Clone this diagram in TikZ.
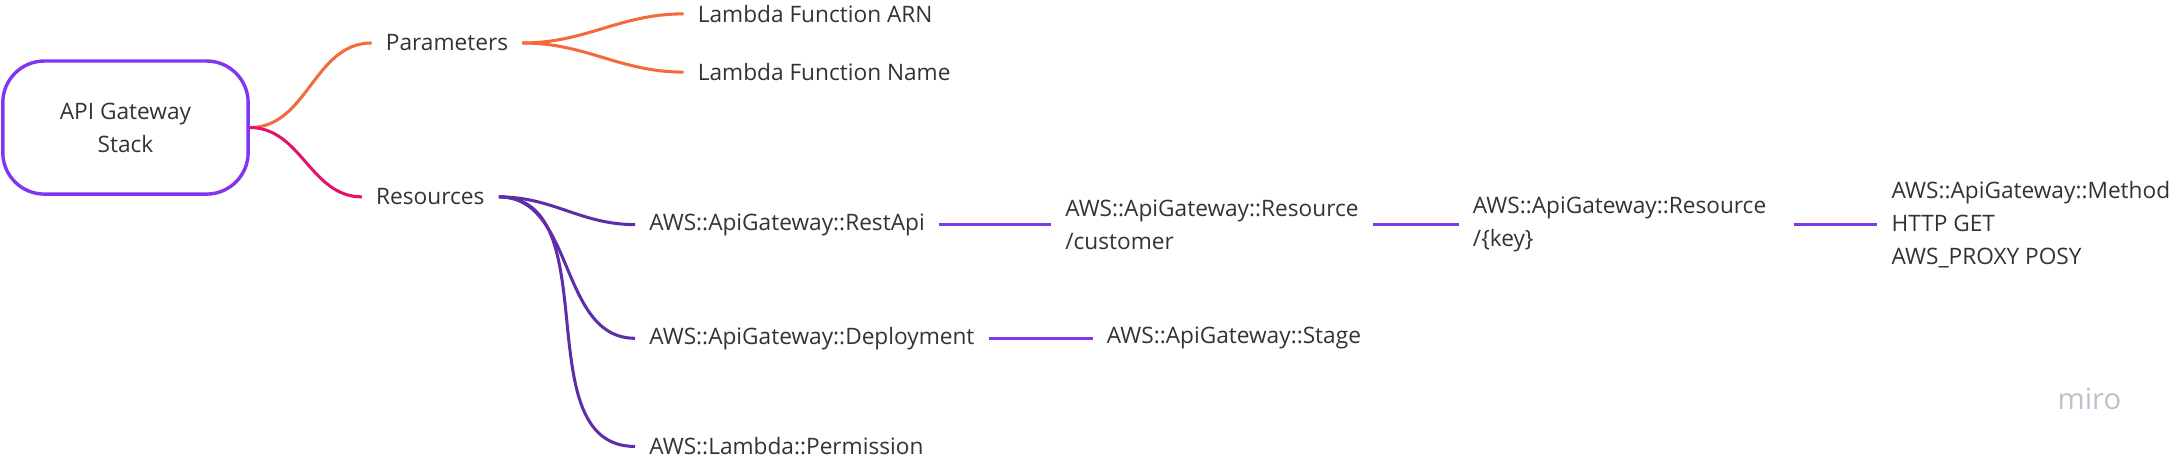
\documentclass[tikz,border=0pt]{standalone}
\usepackage{fontspec}
\setmainfont{Open Sans}
\definecolor{rootpurple}{RGB}{130,52,240}
\definecolor{paramorange}{RGB}{242,106,61}
\definecolor{respink}{RGB}{229,20,106}
\definecolor{deeppurple}{RGB}{94,46,170}
\definecolor{linepurple}{RGB}{128,58,230}
\definecolor{txtgray}{RGB}{51,51,51}
\begin{document}
\begin{tikzpicture}[x=0.02cm,y=-0.02cm,
	txt/.style={anchor=west,inner xsep=0.2cm,inner ysep=0pt,align=left,text=txtgray,
		font=\fontsize{9.3}{13.6}\selectfont},
	branch/.style={line width=1.25pt,out=0,in=180}]
	\useasboundingbox (0,0) rectangle (1568,331);
	% root
	\node [draw=rootpurple,line width=1.4pt,rounded corners=0.6cm,minimum width=3.54cm,minimum height=1.92cm,
		align=center,text=txtgray,font=\fontsize{9.3}{13.6}\selectfont] (stack) at (90.5,92) {API Gateway\\Stack};
	% first level
	\node [txt] (params) at (268,31) {Parameters};
	\node [txt] (res) at (261,142) {Resources};
	\draw [branch,paramorange] (stack.east) to (params.west);
	\draw [branch,respink] (stack.east) to (res.west);
	% parameters
	\node [txt] (arn) at (493,10) {Lambda Function ARN};
	\node [txt] (fname) at (493,52) {Lambda Function Name};
	\draw [branch,paramorange] (params.east) to (arn.west);
	\draw [branch,paramorange] (params.east) to (fname.west);
	% resources
	\node [txt] (restapi) at (458,162) {AWS::ApiGateway::RestApi};
	\node [txt] (deploy) at (458,244) {AWS::ApiGateway::Deployment};
	\node [txt] (perm) at (458,322) {AWS::Lambda::Permission};
	\draw [branch,deeppurple] (res.east) to (restapi.west);
	\draw [branch,deeppurple] (res.east) to (deploy.west);
	\draw [branch,deeppurple] (res.east) to (perm.west);
	% chains
	\node [txt] (rescust) at (758,162) {AWS::ApiGateway::Resource\\/customer};
	\node [txt] (reskey) at (1052,162) {AWS::ApiGateway::Resource\\/\{key\}};
	\node [txt] (method) at (1354,162) {AWS::ApiGateway::Method\\HTTP GET\\AWS\_PROXY POSY};
	\node [txt] (stage) at (788,244) {AWS::ApiGateway::Stage};
	\draw [line width=1.25pt,linepurple] (restapi.east) -- (rescust.west);
	\draw [line width=1.25pt,linepurple] (rescust.east) -- (reskey.west);
	\draw [line width=1.25pt,linepurple] (reskey.east) ++(10,0) -- (method.west);
	\draw [line width=1.25pt,linepurple] (deploy.east) -- (stage.west);
	% watermark
	\node [text={rgb,255:red,192;green,192;blue,204},font=\fontsize{12}{12}\selectfont] (miro) at (1507,288) {miro};
\end{tikzpicture}
\end{document}
